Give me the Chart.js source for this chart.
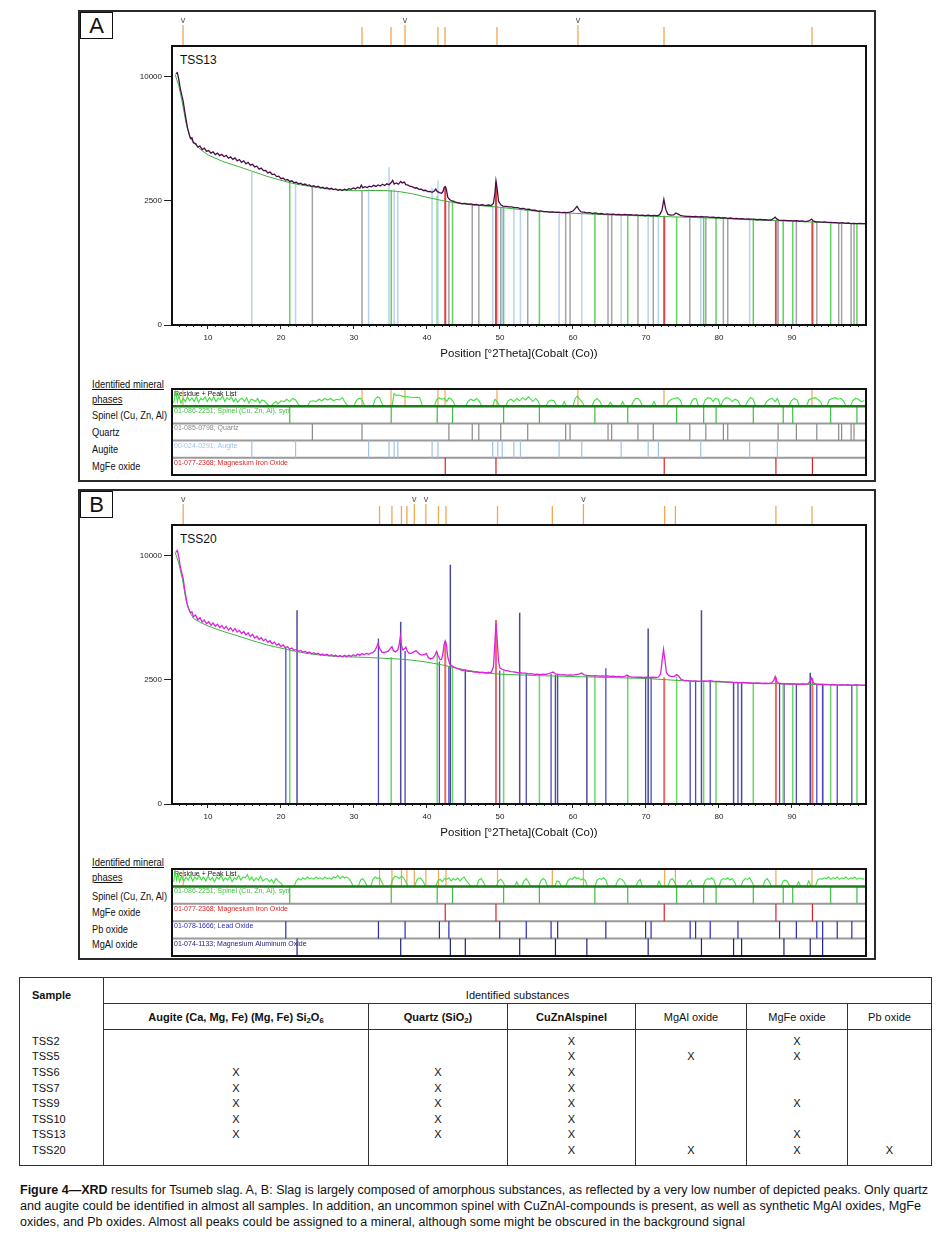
<!DOCTYPE html>
<html><head><meta charset="utf-8"><title>XRD results for Tsumeb slag</title>
<script src="https://cdn.jsdelivr.net/npm/chart.js@4.4.1/dist/chart.umd.min.js"></script>
<style>
*{box-sizing:border-box;}
html,body{margin:0;padding:0;background:#fff;}
body{position:relative;width:941px;height:1234px;overflow:hidden;font-family:"Liberation Sans Narrow","Arial Narrow","Liberation Sans",Arial,sans-serif;color:#111;}
.panel{position:absolute;left:78px;width:798px;border:2px solid #2a2a2a;}
.tag{position:absolute;left:80px;width:33px;height:27px;border:1.5px solid #111;font:22px "Liberation Sans",Arial,sans-serif;text-align:center;line-height:25px;}
canvas{position:absolute;}
.sample{position:absolute;left:180px;font-size:12px;line-height:14px;}
.lbl{position:absolute;left:92px;font-size:11px;line-height:13px;white-space:nowrap;transform:scaleX(0.84);transform-origin:0 50%;z-index:2;}
.hdr{position:absolute;left:92px;font-size:10.5px;line-height:15px;text-decoration:underline;white-space:nowrap;transform:scaleX(0.9);transform-origin:0 50%;}
#tbl{position:absolute;left:19px;top:977px;width:912px;border-collapse:collapse;table-layout:fixed;font-size:11px;color:#111;border:1px solid #333;}
#tbl th,#tbl td{padding:0;}
#tbl .samp{text-align:left;vertical-align:top;padding:11px 0 0 12px;font-weight:bold;border-right:1px solid #333;}
#tbl .ids{height:26px;font-weight:normal;border-bottom:1px solid #333;text-align:center;vertical-align:bottom;padding-bottom:2px;}
#tbl .h2 th{height:26px;border-right:1px solid #333;border-bottom:1px solid #333;text-align:center;}
#tbl .h2 th.b{font-weight:bold;}
#tbl .h2 th.n{font-weight:normal;}
#tbl td{height:15.6px;line-height:15px;text-align:center;border-right:1px solid #333;}
#tbl td.s{text-align:left;padding-left:12px;}
#tbl tr.sp td{height:4px;line-height:4px;}
#tbl tr.sp2 td{height:7px;line-height:7px;}
sub{font-size:70%;vertical-align:-2px;line-height:0;}
.cap{position:absolute;left:20px;font-size:12.5px;line-height:16px;white-space:nowrap;color:#111;transform-origin:0 50%;}
</style></head>
<body>
<div class="panel" style="top:10px;height:472px"></div>
<div class="panel" style="top:489px;height:471px"></div>
<div class="tag" style="top:12px">A</div>
<div class="tag" style="top:491px">B</div>
<div class="sample" style="top:53px">TSS13</div>
<div class="sample" style="top:532px">TSS20</div>

<canvas id="mainA" width="760" height="352" style="left:120px;top:14px"></canvas>
<canvas id="subA" width="698" height="89" style="left:170px;top:387px"></canvas>
<canvas id="mainB" width="760" height="352" style="left:120px;top:493px"></canvas>
<canvas id="subB" width="698" height="90" style="left:170px;top:867px"></canvas>

<div class="hdr" style="top:377px">Identified mineral<br>phases</div>
<div class="lbl" style="top:409px">Spinel (Cu, Zn, Al)</div>
<div class="lbl" style="top:426px">Quartz</div>
<div class="lbl" style="top:443px">Augite</div>
<div class="lbl" style="top:460px">MgFe oxide</div>

<div class="hdr" style="top:855px">Identified mineral<br>phases</div>
<div class="lbl" style="top:890px">Spinel (Cu, Zn, Al)</div>
<div class="lbl" style="top:906px">MgFe oxide</div>
<div class="lbl" style="top:923px">Pb oxide</div>
<div class="lbl" style="top:938px">MgAl oxide</div>

<table id="tbl"></table>

<div class="cap" data-w="908" style="top:1182px"><b>Figure 4—XRD</b> results for Tsumeb slag. A, B: Slag is largely composed of amorphous substances, as reflected by a very low number of depicted peaks. Only quartz</div>
<div class="cap" data-w="901" style="top:1198px">and augite could be identified in almost all samples. In addition, an uncommon spinel with CuZnAl-compounds is present, as well as synthetic MgAl oxides, MgFe</div>
<div class="cap" data-w="725" style="top:1214px">oxides, and Pb oxides. Almost all peaks could be assigned to a mineral, although some might be obscured in the background signal</div>

<script>
// ---------------- DATA ----------------
const xTicks = [10, 20, 30, 40, 50, 60, 70, 80, 90];
const yTicks = [0, 2500, 10000];
const X_MIN = 5.07, X_MAX = 100.14, Y_MAX = 12650;

// Panel A (TSS13) measured pattern [°2θ, counts]
const patternA = [[5.6,10250],[5.8,10350],[6.0,9800],[6.2,9100],[6.4,8600],[6.6,8150],[6.8,7450],[7.0,6850],[7.2,6300],[7.4,5950],[7.6,5650],[7.8,5700],[8.0,5400],[8.3,5350],[8.6,5150],[8.9,5200],[9.2,5000],[9.5,5080],[9.8,4900],[10.1,4950],[10.4,4800],[10.7,4870],[11.0,4720],[11.3,4800],[11.6,4660],[11.9,4730],[12.2,4600],[12.5,4680],[12.8,4520],[13.1,4590],[13.4,4460],[13.7,4540],[14.0,4380],[14.3,4450],[14.6,4300],[14.9,4380],[15.2,4220],[15.5,4300],[15.8,4150],[16.1,4200],[16.4,4060],[16.7,4100],[17.0,3950],[17.3,4000],[17.6,3870],[17.9,3880],[18.2,3760],[18.5,3800],[18.8,3680],[19.1,3700],[19.4,3580],[19.7,3600],[20.0,3480],[20.3,3510],[20.6,3410],[20.9,3440],[21.2,3350],[21.5,3380],[21.8,3290],[22.1,3310],[22.4,3240],[22.7,3270],[23.0,3200],[23.3,3230],[23.6,3160],[23.9,3190],[24.2,3120],[24.5,3150],[24.8,3090],[25.1,3130],[25.4,3060],[25.7,3090],[26.0,3030],[26.3,3060],[26.6,3000],[26.9,3040],[27.2,2980],[27.5,3010],[27.8,2950],[28.1,2990],[28.4,2940],[28.7,3000],[29.0,2960],[29.3,3020],[29.6,2990],[29.9,3050],[30.2,3010],[30.5,3080],[30.8,3040],[31.0,3180],[31.2,3060],[31.5,3110],[31.8,3070],[32.1,3130],[32.4,3100],[32.7,3170],[33.0,3120],[33.3,3190],[33.6,3140],[33.9,3220],[34.2,3160],[34.5,3240],[34.8,3200],[35.1,3300],[35.3,3400],[35.5,3230],[35.8,3280],[36.1,3220],[36.4,3350],[36.6,3280],[36.9,3320],[37.1,3200],[37.4,3180],[37.7,3120],[38.0,3110],[38.3,3050],[38.6,3060],[38.9,2990],[39.2,3000],[39.5,2940],[39.8,2950],[40.1,2890],[40.4,2900],[40.7,2860],[41.0,2920],[41.2,3000],[41.4,2900],[41.7,2850],[42.0,2820],[42.2,2900],[42.35,3080],[42.5,3120],[42.65,3000],[42.85,2650],[43.1,2560],[43.4,2500],[43.7,2480],[44.0,2440],[44.4,2420],[44.8,2390],[45.2,2400],[45.6,2370],[46.0,2380],[46.4,2350],[46.8,2360],[47.2,2330],[47.6,2350],[48.0,2320],[48.4,2340],[48.8,2320],[49.1,2400],[49.3,2800],[49.45,3380],[49.6,3050],[49.8,2500],[50.1,2350],[50.4,2300],[50.8,2290],[51.2,2270],[51.6,2270],[52.0,2240],[52.4,2240],[52.8,2200],[53.2,2210],[53.6,2170],[54.0,2180],[54.4,2140],[54.8,2140],[55.2,2110],[55.6,2120],[56.0,2090],[56.4,2090],[56.8,2070],[57.2,2080],[57.6,2060],[58.0,2070],[58.4,2050],[58.8,2060],[59.2,2050],[59.6,2070],[60.0,2110],[60.3,2200],[60.55,2290],[60.8,2170],[61.1,2080],[61.5,2070],[61.9,2040],[62.3,2050],[62.7,2020],[63.1,2040],[63.5,2010],[63.9,2020],[64.3,1990],[64.7,2010],[65.1,1990],[65.5,2000],[65.9,1980],[66.3,1990],[66.7,1970],[67.1,1990],[67.5,1970],[67.9,1980],[68.3,1960],[68.7,1970],[69.1,1950],[69.5,1960],[69.9,1940],[70.3,1960],[70.7,1940],[71.1,1950],[71.5,1940],[71.9,1980],[72.2,2150],[72.45,2560],[72.7,2180],[73.0,1990],[73.4,1960],[73.8,1970],[74.1,2040],[74.4,2000],[74.8,1940],[75.2,1930],[75.6,1920],[76.0,1920],[76.4,1910],[76.8,1920],[77.2,1900],[77.6,1910],[78.0,1900],[78.4,1900],[78.8,1880],[79.2,1890],[79.6,1870],[80.0,1880],[80.4,1860],[80.8,1870],[81.2,1850],[81.6,1860],[82.0,1840],[82.4,1850],[82.8,1830],[83.2,1840],[83.6,1820],[84.0,1830],[84.4,1820],[84.8,1820],[85.2,1800],[85.6,1810],[86.0,1800],[86.4,1800],[86.8,1790],[87.2,1800],[87.5,1850],[87.7,1890],[87.9,1830],[88.2,1790],[88.6,1780],[89.0,1780],[89.4,1770],[89.8,1770],[90.2,1760],[90.6,1770],[91.0,1750],[91.4,1760],[91.8,1740],[92.2,1750],[92.5,1790],[92.7,1820],[92.9,1760],[93.3,1730],[93.7,1730],[94.1,1720],[94.5,1730],[94.9,1710],[95.3,1710],[95.7,1700],[96.1,1700],[96.5,1690],[96.9,1700],[97.3,1680],[97.7,1690],[98.1,1670],[98.5,1680],[98.9,1670],[99.3,1680],[99.7,1670],[100.1,1670]];
const backgroundA = [[5.5,10200],[6.0,9300],[6.5,8000],[7.0,6600],[7.5,5800],[8.0,5400],[9.0,5000],[10,4700],[12,4350],[14,4100],[16,3850],[18,3600],[20,3400],[22,3230],[24,3120],[26,3020],[28,2960],[30,2930],[32,2940],[34,2940],[36,2900],[38,2800],[40,2650],[42,2520],[44,2420],[46,2350],[48,2300],[50,2250],[55,2100],[60,2030],[65,1970],[70,1930],[75,1890],[80,1850],[85,1790],[90,1750],[95,1700],[100.1,1660]];

// Panel B (TSS20)
const patternB = [[5.6,10300],[5.8,10450],[6.0,9900],[6.2,9200],[6.4,8700],[6.6,8300],[6.8,7500],[7.0,6900],[7.2,6400],[7.4,6150],[7.6,5950],[7.8,6000],[8.0,5700],[8.3,5800],[8.6,5500],[8.9,5650],[9.2,5380],[9.5,5500],[9.8,5280],[10.1,5400],[10.4,5200],[10.7,5320],[11.0,5130],[11.3,5250],[11.6,5060],[11.9,5180],[12.2,4990],[12.5,5120],[12.8,4920],[13.1,5050],[13.4,4850],[13.7,5000],[14.0,4800],[14.3,4900],[14.6,4720],[14.9,4830],[15.2,4640],[15.5,4760],[15.8,4560],[16.1,4680],[16.4,4480],[16.7,4580],[17.0,4400],[17.3,4500],[17.6,4330],[17.9,4420],[18.2,4250],[18.5,4330],[18.8,4170],[19.1,4260],[19.4,4100],[19.7,4180],[20.0,4030],[20.3,4110],[20.6,3970],[20.9,4020],[21.2,3900],[21.5,3950],[21.8,3840],[22.1,3880],[22.4,3790],[22.7,3830],[23.0,3740],[23.3,3790],[23.6,3700],[23.9,3750],[24.2,3670],[24.5,3720],[24.8,3640],[25.1,3690],[25.4,3610],[25.7,3660],[26.0,3590],[26.3,3640],[26.6,3570],[26.9,3620],[27.2,3550],[27.5,3600],[27.8,3530],[28.1,3580],[28.4,3520],[28.7,3590],[29.0,3530],[29.3,3600],[29.6,3540],[29.9,3620],[30.2,3560],[30.5,3650],[30.8,3590],[31.1,3680],[31.4,3620],[31.7,3690],[32.0,3640],[32.3,3700],[32.6,3720],[32.9,3850],[33.1,4000],[33.3,4200],[33.5,3950],[33.8,3760],[34.1,3720],[34.4,3760],[34.7,3800],[35.0,3950],[35.2,4020],[35.4,3820],[35.7,3760],[36.0,3850],[36.2,4150],[36.35,4550],[36.5,4100],[36.7,3850],[36.9,3900],[37.1,4000],[37.3,3800],[37.6,3680],[37.9,3700],[38.2,3760],[38.5,3820],[38.8,3700],[39.0,3650],[39.3,3600],[39.6,3620],[39.9,3680],[40.2,3480],[40.5,3420],[40.8,3460],[41.1,3600],[41.3,3780],[41.5,3600],[41.8,3380],[42.0,3400],[42.2,3700],[42.35,4150],[42.5,4320],[42.65,4150],[42.85,3500],[43.1,3200],[43.4,3100],[43.7,3050],[44.0,3000],[44.4,2960],[44.8,2900],[45.2,2910],[45.6,2860],[46.0,2870],[46.4,2830],[46.8,2840],[47.2,2800],[47.6,2820],[48.0,2790],[48.4,2810],[48.8,2820],[49.1,3050],[49.3,4200],[49.45,5300],[49.6,4500],[49.8,3300],[50.0,3000],[50.3,2950],[50.7,2900],[51.1,2880],[51.5,2850],[51.9,2840],[52.3,2810],[52.7,2800],[53.1,2780],[53.5,2780],[53.9,2750],[54.3,2760],[54.7,2730],[55.1,2740],[55.5,2720],[55.9,2740],[56.3,2730],[56.7,2760],[57.0,2800],[57.3,2830],[57.6,2750],[58.0,2730],[58.4,2710],[58.8,2720],[59.2,2700],[59.6,2710],[60.0,2700],[60.4,2720],[60.8,2740],[61.2,2790],[61.5,2710],[61.9,2690],[62.3,2680],[62.7,2670],[63.1,2680],[63.5,2660],[63.9,2670],[64.3,2660],[64.7,2670],[65.1,2650],[65.5,2660],[65.9,2640],[66.3,2650],[66.7,2630],[67.1,2650],[67.4,2700],[67.7,2640],[68.1,2620],[68.5,2620],[68.9,2610],[69.3,2610],[69.7,2600],[70.1,2610],[70.5,2600],[70.9,2610],[71.3,2600],[71.7,2620],[72.0,2750],[72.2,3300],[72.4,3880],[72.6,3350],[72.8,2800],[73.1,2690],[73.5,2640],[73.9,2650],[74.2,2720],[74.5,2650],[74.8,2520],[75.2,2480],[75.6,2470],[76.0,2460],[76.4,2450],[76.8,2460],[77.2,2440],[77.6,2450],[78.0,2460],[78.4,2450],[78.8,2470],[79.2,2450],[79.6,2440],[80.0,2440],[80.4,2430],[80.8,2420],[81.2,2420],[81.6,2410],[82.0,2400],[82.4,2400],[82.8,2390],[83.2,2400],[83.6,2390],[84.0,2380],[84.4,2380],[84.8,2370],[85.2,2380],[85.6,2370],[86.0,2360],[86.4,2370],[86.8,2360],[87.2,2380],[87.5,2480],[87.7,2640],[87.9,2450],[88.2,2370],[88.6,2350],[89.0,2350],[89.4,2340],[89.8,2350],[90.2,2340],[90.6,2340],[91.0,2330],[91.4,2340],[91.8,2330],[92.2,2350],[92.5,2450],[92.7,2580],[92.9,2400],[93.2,2340],[93.6,2330],[94.0,2330],[94.4,2320],[94.8,2320],[95.2,2310],[95.6,2320],[96.0,2310],[96.4,2300],[96.8,2310],[97.2,2300],[97.6,2310],[98.0,2300],[98.4,2300],[98.8,2310],[99.2,2300],[99.6,2300],[100.1,2300]];
const backgroundB = [[5.5,10300],[6.0,9400],[6.5,8200],[7.0,6700],[7.5,6000],[8.0,5600],[9.0,5350],[10,5150],[12,4850],[14,4600],[16,4350],[18,4120],[20,3950],[22,3780],[24,3660],[26,3580],[28,3530],[30,3510],[32,3490],[34,3450],[36,3420],[38,3360],[40,3270],[42,3150],[44,3000],[46,2880],[48,2790],[50,2740],[55,2680],[60,2640],[65,2600],[70,2560],[75,2470],[80,2420],[85,2370],[90,2340],[95,2310],[100.1,2290]];

// Reference pattern stick positions (°2θ) and drawn heights (counts)
const spinelPos = [21.2, 35.1, 41.4, 43.5, 50.5, 55.4, 63.0, 67.5, 74.2, 77.9, 79.6, 84.7, 88.8, 90.1, 95.3, 98.9];
const spinelHA  = [3350, 2950, 2700, 2480, 2260, 2100, 2010, 1980, 1900, 1880, 1870, 1800, 1770, 1760, 1700, 1670];
const spinelHB  = [3900, 3500, 3770, 3050, 2900, 2720, 2650, 2700, 2620, 2450, 2440, 2380, 2350, 2340, 2310, 2300];
const quartzPos = [24.3, 31.1, 43.0, 46.2, 47.1, 50.1, 53.8, 59.0, 59.6, 64.8, 65.3, 68.9, 71.0, 76.0, 78.2, 80.6, 81.2, 88.1, 90.6, 93.4, 96.4, 96.8, 98.1, 98.5];
const quartzHA  = [3120, 2930, 2480, 2350, 2330, 2250, 2150, 2030, 2030, 1980, 1970, 1950, 1940, 1900, 1880, 1860, 1850, 1780, 1760, 1730, 1690, 1690, 1680, 1670];
const augitePos = [16.0, 22.0, 32.0, 34.8, 35.5, 36.0, 40.7, 41.5, 49.0, 49.7, 50.3, 51.9, 52.8, 58.1, 61.2, 66.6, 70.3, 71.7, 77.5, 84.2, 88.0];
const augiteHA  = [3800, 3280, 3020, 4050, 3000, 2900, 3050, 3390, 2300, 2300, 2280, 2230, 2200, 2050, 2040, 2000, 1950, 1950, 1950, 1830, 1780];
const mgfePos = [42.5, 49.45, 72.5, 87.8, 92.8];
const mgfeHA  = [3100, 3330, 1940, 1790, 1750];
const mgfeHB  = [4300, 5500, 2600, 2620, 2560];
const pbPos = [20.66, 33.35, 37.0, 41.7, 43.0, 49.96, 53.6, 57.0, 57.9, 64.5, 69.95, 70.7, 76.05, 76.8, 78.8, 82.6, 88.3, 90.6, 93.4, 94.2, 96.2, 98.2];
const pbHB  = [4000, 4450, 3800, 3300, 3100, 2900, 2760, 2750, 2720, 3000, 2590, 2600, 2450, 2450, 2450, 2400, 2350, 2340, 2330, 2330, 2310, 2300];
const mgalPos = [22.2, 36.4, 43.2, 45.25, 52.7, 57.6, 61.9, 70.3, 77.6, 82.0, 83.1, 88.9, 92.5, 94.2];
const mgalHB  = [6100, 5400, 9300, 2880, 5950, 2720, 2660, 5000, 6100, 2400, 2390, 2350, 2800, 2320];

// Peak list markers (°2θ); "v" flagged ones
const markersA = [6.58, 31.1, 35.07, 36.99, 41.5, 42.47, 49.59, 60.68, 72.47, 92.74];
const vMarksA  = [6.58, 36.99, 60.68];
const markersB = [6.6, 33.5, 35.2, 36.5, 37.25, 38.26, 39.85, 41.57, 42.6, 49.66, 57.17, 61.43, 72.56, 74.03, 87.8, 92.74];
const vMarksB  = [6.6, 38.26, 39.85, 61.43];

// Residue traces [°2θ, relative residue 0..1]
const residueA = [[5.3,0.2],[5.6,0.95],[5.8,0.3],[6.0,0.7],[6.3,0.2],[6.6,0.5],[6.9,0.3],[7.2,0.6],[7.5,0.35],[7.8,0.55],[8.1,0.3],[8.4,0.6],[8.7,0.25],[9.0,0.5],[9.3,0.4],[9.6,0.6],[9.9,0.3],[10.2,0.55],[10.5,0.35],[10.8,0.6],[11.1,0.3],[11.4,0.5],[11.7,0.45],[12.0,0.65],[12.3,0.3],[12.6,0.55],[12.9,0.4],[13.2,0.6],[13.5,0.3],[13.8,0.5],[14.1,0.25],[14.4,0.45],[14.7,0.5],[15.0,0.3],[15.3,0.55],[15.6,0.2],[15.9,0.45],[16.2,0.4],[16.5,0.3],[16.8,0.5],[17.1,0.2],[17.4,0.4],[17.7,0.35],[18.0,0.2],[18.3,0.05],[18.6,0],[19.0,0.2],[19.3,0.3],[19.6,0.15],[20.0,0.35],[20.4,0.3],[20.8,0.45],[21.2,0.3],[21.6,0.5],[22.0,0.4],[22.4,0.1],[22.8,0],[23.6,0],[24.0,0.3],[24.4,0.35],[24.8,0.3],[25.2,0.45],[25.6,0.35],[26.0,0.5],[26.4,0.4],[26.8,0.5],[27.2,0.35],[27.6,0.45],[28.0,0.4],[28.4,0.55],[28.7,0.3],[29.0,0.1],[29.5,0],[30.0,0],[30.3,0.35],[30.6,0.5],[30.9,0.5],[31.2,0.3],[31.5,0],[32.6,0],[32.9,0.45],[33.2,0.6],[33.5,0.55],[33.8,0.2],[34.1,0],[35.2,0],[35.5,0.8],[35.8,0.7],[36.2,0.72],[36.6,0.65],[37.0,0.62],[37.4,0.6],[37.8,0.58],[38.2,0.55],[38.6,0.58],[39.0,0.55],[39.4,0],[41.0,0],[41.3,0.4],[41.6,0.55],[42.0,0.45],[42.4,0.5],[42.7,0.3],[43.0,0.55],[43.3,0.45],[43.6,0.3],[43.9,0],[45.3,0],[45.6,0.3],[46.0,0.45],[46.4,0.35],[46.8,0.5],[47.2,0.3],[47.5,0],[49.0,0],[49.3,0.45],[49.6,0.3],[50.0,0],[50.8,0],[51.1,0.35],[51.5,0.45],[51.9,0.3],[52.3,0.5],[52.7,0.35],[53.1,0.55],[53.5,0.4],[53.9,0.6],[54.2,0.45],[54.5,0.3],[54.9,0.5],[55.2,0.35],[55.5,0],[56.3,0],[56.6,0.3],[57.0,0.4],[57.4,0.35],[57.8,0],[58.5,0],[58.8,0.3],[59.1,0],[60.0,0],[60.3,0.5],[60.6,0.65],[60.9,0.45],[61.2,0.3],[61.6,0],[62.6,0],[62.9,0.35],[63.3,0.5],[63.7,0.3],[64.0,0],[64.8,0],[65.1,0.25],[65.5,0],[66.5,0],[66.8,0.3],[67.1,0],[68.0,0],[68.3,0.35],[68.6,0.5],[68.9,0.5],[69.2,0.35],[69.5,0],[70.8,0],[71.1,0.3],[71.4,0],[72.8,0],[73.1,0.3],[73.5,0.45],[73.9,0.5],[74.3,0.55],[74.7,0.4],[75.0,0],[76.0,0],[76.3,0.35],[76.6,0.5],[76.9,0.45],[77.2,0],[77.8,0],[78.1,0.4],[78.5,0.55],[78.9,0.5],[79.2,0.3],[79.5,0.5],[79.9,0.45],[80.2,0],[80.6,0.4],[81.0,0.55],[81.4,0.5],[81.8,0.3],[82.2,0.45],[82.6,0.35],[83.0,0],[83.6,0],[83.9,0.3],[84.3,0.55],[84.7,0.45],[85.0,0],[86.2,0],[86.5,0.3],[86.9,0.45],[87.3,0.5],[87.7,0.3],[88.0,0.5],[88.4,0],[89.6,0],[89.9,0.35],[90.3,0.5],[90.7,0.4],[91.0,0],[92.0,0],[92.3,0.4],[92.7,0.5],[93.1,0.55],[93.5,0.45],[93.9,0.3],[94.2,0],[94.8,0],[95.1,0.4],[95.5,0.5],[95.9,0.55],[96.3,0.45],[96.7,0.5],[97.1,0.3],[97.4,0],[98.0,0],[98.3,0.35],[98.7,0.5],[99.1,0.45],[99.5,0.3],[99.9,0.35]];
const residueB = [[5.3,0.3],[5.5,1.0],[5.7,0.4],[5.9,0.8],[6.1,0.3],[6.4,0.65],[6.7,0.35],[7.0,0.6],[7.3,0.4],[7.6,0.7],[7.9,0.35],[8.2,0.6],[8.5,0.45],[8.8,0.7],[9.1,0.4],[9.4,0.6],[9.7,0.35],[10.0,0.65],[10.3,0.4],[10.6,0.55],[10.9,0.3],[11.2,0.6],[11.5,0.45],[11.8,0.7],[12.1,0.35],[12.4,0.55],[12.7,0.4],[13.0,0.65],[13.3,0.3],[13.6,0.55],[13.9,0.45],[14.2,0.7],[14.5,0.4],[14.8,0.6],[15.1,0.55],[15.4,0.75],[15.7,0.4],[16.0,0.6],[16.3,0.35],[16.6,0.55],[16.9,0.4],[17.2,0.65],[17.5,0.35],[17.8,0.45],[18.1,0.5],[18.4,0.3],[18.7,0.45],[19.0,0.2],[19.3,0.5],[19.6,0.35],[20.0,0.2],[20.3,0],[21.8,0],[22.1,0.35],[22.4,0.5],[22.7,0.4],[23.0,0.55],[23.3,0.45],[23.6,0.6],[23.9,0.5],[24.2,0.55],[24.5,0.45],[24.8,0.6],[25.1,0.5],[25.4,0.55],[25.7,0.45],[26.0,0.6],[26.3,0.5],[26.6,0.55],[26.9,0.45],[27.2,0.6],[27.5,0.55],[27.8,0.7],[28.1,0.5],[28.4,0.65],[28.7,0.55],[29.0,0.6],[29.3,0.5],[29.6,0.3],[29.9,0],[30.6,0],[30.9,0.4],[31.2,0.5],[31.5,0.3],[31.8,0],[32.3,0],[32.6,0.45],[32.9,0.6],[33.2,0.5],[33.5,0.55],[33.8,0.3],[34.1,0],[35.0,0],[35.3,0.45],[35.6,0.65],[35.9,0.6],[36.2,0.5],[36.5,0.65],[36.8,0.55],[37.1,0.3],[37.4,0],[38.3,0],[38.6,0.4],[38.9,0.55],[39.2,0.5],[39.5,0.3],[39.8,0],[41.2,0],[41.5,0.35],[41.8,0.45],[42.1,0.3],[42.4,0.5],[42.7,0.45],[43.0,0.55],[43.3,0.35],[43.6,0.5],[43.9,0.4],[44.2,0.55],[44.5,0.35],[44.8,0.5],[45.1,0.6],[45.4,0.35],[45.7,0.2],[46.0,0],[46.8,0],[47.1,0.4],[47.4,0.5],[47.7,0.3],[48.0,0],[49.5,0],[49.8,0.35],[50.1,0.45],[50.4,0.3],[50.7,0],[52.0,0],[52.3,0.3],[52.6,0],[53.0,0],[53.3,0.35],[53.6,0.5],[53.9,0.3],[54.2,0],[55.3,0],[55.6,0.35],[55.9,0.5],[56.2,0.4],[56.5,0],[57.5,0],[57.8,0.35],[58.1,0.3],[58.4,0],[59.0,0],[59.3,0.35],[59.6,0.5],[59.9,0.45],[60.2,0.6],[60.5,0.5],[60.8,0.55],[61.1,0.4],[61.4,0.5],[61.7,0.35],[62.0,0],[63.0,0],[63.3,0.4],[63.6,0.5],[63.9,0.45],[64.2,0.55],[64.5,0.4],[64.8,0],[65.8,0],[66.1,0.35],[66.4,0.5],[66.7,0.45],[67.0,0.3],[67.3,0],[68.6,0],[68.9,0.3],[69.2,0.45],[69.5,0],[71.5,0],[71.8,0.35],[72.1,0],[73.0,0],[73.3,0.4],[73.6,0.5],[73.9,0.3],[74.2,0],[75.5,0],[75.8,0.3],[76.1,0.4],[76.4,0],[77.8,0],[78.1,0.35],[78.4,0.5],[78.7,0.45],[79.0,0.55],[79.3,0.4],[79.6,0],[80.0,0],[80.3,0.4],[80.6,0.5],[80.9,0.45],[81.2,0.55],[81.5,0.4],[81.8,0.5],[82.1,0.3],[82.4,0],[83.0,0],[83.3,0.35],[83.6,0.5],[83.9,0.45],[84.2,0.55],[84.5,0.3],[84.8,0],[86.0,0],[86.3,0.35],[86.6,0.5],[86.9,0.3],[87.2,0],[88.5,0],[88.8,0.35],[89.1,0.4],[89.4,0.3],[89.7,0],[90.6,0],[90.9,0.3],[91.2,0],[92.0,0],[92.3,0.35],[92.6,0],[93.2,0],[93.5,0.4],[93.8,0.5],[94.1,0.45],[94.4,0.55],[94.7,0.5],[95.0,0.6],[95.3,0.45],[95.6,0.55],[95.9,0.5],[96.2,0.6],[96.5,0.45],[96.8,0.55],[97.1,0.5],[97.4,0.6],[97.7,0.45],[98.0,0.55],[98.3,0.5],[98.6,0.6],[98.9,0.45],[99.2,0.55],[99.5,0.5],[99.9,0.45]];

// Table
const samples = ['TSS2', 'TSS5', 'TSS6', 'TSS7', 'TSS9', 'TSS10', 'TSS13', 'TSS20'];
const augiteFound = [0, 0, 1, 1, 1, 1, 1, 0];
const quartzFound = [0, 0, 1, 1, 1, 1, 1, 0];
const spinelFound = [1, 1, 1, 1, 1, 1, 1, 1];
const mgalFound   = [0, 1, 0, 0, 0, 0, 0, 1];
const mgfeFound   = [1, 1, 0, 0, 1, 0, 1, 1];
const pbFound     = [0, 0, 0, 0, 0, 0, 0, 1];

// ---------------- RENDER ----------------
const FONT = '"Liberation Sans Narrow","Arial Narrow","Liberation Sans",Arial,sans-serif';
Chart.defaults.font.family = FONT;
Chart.defaults.color = '#222';

class SqrtScale extends Chart.LinearScale {
  getPixelForValue(value) {
    if (value === null || value === undefined || isNaN(value)) return NaN;
    const s0 = Math.sqrt(Math.max(this.min, 0)), s1 = Math.sqrt(this.max);
    return this.getPixelForDecimal((Math.sqrt(Math.max(value, 0)) - s0) / (s1 - s0));
  }
  getValueForPixel(pixel) {
    const s0 = Math.sqrt(Math.max(this.min, 0)), s1 = Math.sqrt(this.max);
    const s = s0 + this.getDecimalForPixel(pixel) * (s1 - s0);
    return s * s;
  }
}
SqrtScale.id = 'sqrt';
Chart.register(SqrtScale);

function pts(arr) { return arr.map(([x, y]) => ({x, y})); }
function sticks(pos, top, base) {
  const out = [];
  pos.forEach((p, i) => {
    const t = Array.isArray(top) ? top[i] : top;
    out.push({x: p, y: base}, {x: p, y: t}, {x: p, y: null});
  });
  return out;
}
function ds(data, color, width) {
  return {data, borderColor: color, backgroundColor: color, borderWidth: width, pointRadius: 0, fill: false, tension: 0, spanGaps: false};
}

const mainPlugin = {
  id: 'mainDeco',
  afterDraw(chart, args, o) {
    const {ctx, chartArea: a, scales: {x}} = chart;
    ctx.save();
    ctx.strokeStyle = '#222'; ctx.lineWidth = 1;
    for (let d = Math.ceil(x.min); d <= x.max; d++) {
      if (d % 10 === 0) continue;
      const px = Math.round(x.getPixelForValue(d)) + 0.5;
      ctx.beginPath(); ctx.moveTo(px, a.bottom); ctx.lineTo(px, a.bottom + 2); ctx.stroke();
    }
    ctx.strokeStyle = '#111'; ctx.lineWidth = 2;
    ctx.strokeRect(a.left, a.top, a.right - a.left, a.bottom - a.top);
    ctx.strokeStyle = '#f2a650'; ctx.lineWidth = 1.3;
    o.markers.forEach(p => {
      const px = x.getPixelForValue(p);
      const isV = o.vmarks.includes(p);
      ctx.beginPath(); ctx.moveTo(px, a.top - (isV ? 21 : 19)); ctx.lineTo(px, a.top - 1); ctx.stroke();
    });
    ctx.fillStyle = '#555'; ctx.font = '9px ' + FONT; ctx.textAlign = 'center'; ctx.textBaseline = 'middle';
    o.vmarks.forEach(p => { ctx.fillText('v', x.getPixelForValue(p), a.top - 25); });
    ctx.restore();
  }
};

function mainChart(id, pattern, patColor, background, stickSets, markers, vmarks) {
  const datasets = [ds(pts(pattern), patColor, 1.3), ds(pts(background), '#3cb43c', 1)];
  stickSets.forEach(s => datasets.push(ds(sticks(s.pos, s.h, 0), s.color, s.w)));
  new Chart(document.getElementById(id), {
    type: 'line',
    data: {datasets},
    options: {
      responsive: false, animation: false, devicePixelRatio: 1,
      layout: {padding: {left: 0, top: 32, right: 14, bottom: 0}},
      plugins: {legend: {display: false}, tooltip: {enabled: false}, mainDeco: {markers, vmarks}},
      scales: {
        x: {type: 'linear', min: X_MIN, max: X_MAX,
            afterFit: s => { s.height = 41; },
            afterBuildTicks: s => { s.ticks = xTicks.map(v => ({value: v})); },
            grid: {display: true, drawOnChartArea: false, drawTicks: true, tickLength: 4, tickColor: '#222', tickWidth: 1},
            border: {display: false},
            ticks: {padding: 4, font: {size: 8}, color: '#222', maxRotation: 0, autoSkip: false, callback: v => String(v)},
            title: {display: true, text: 'Position [°2Theta](Cobalt (Co))', font: {size: 11.5}, color: '#111', padding: {top: 0, bottom: 5}}},
        y: {type: 'sqrt', min: 0, max: Y_MAX,
            afterFit: s => { s.width = 52; },
            afterBuildTicks: s => { s.ticks = yTicks.map(v => ({value: v})); },
            grid: {display: true, drawOnChartArea: false, drawTicks: true, tickLength: 8, tickColor: '#222', tickWidth: 1},
            border: {display: false},
            ticks: {padding: 2, font: {size: 8}, color: '#222', callback: v => String(v)}}
      }
    },
    plugins: [mainPlugin]
  });
}

const subPlugin = {
  id: 'subDeco',
  beforeDatasetsDraw(chart, args, o) {
    const {ctx, chartArea: a, scales: {y}} = chart;
    ctx.save();
    ctx.font = '7px ' + FONT; ctx.textAlign = 'left'; ctx.textBaseline = 'top';
    o.rows.forEach((r, i) => {
      ctx.fillStyle = r.color;
      ctx.fillText(r.label, a.left + 2, y.getPixelForValue(5 - i) + 1.5);
    });
    ctx.strokeStyle = '#9a9a9a'; ctx.lineWidth = 2;
    for (let k = 1; k <= 3; k++) {
      const py = y.getPixelForValue(k);
      ctx.beginPath(); ctx.moveTo(a.left, py); ctx.lineTo(a.right, py); ctx.stroke();
    }
    ctx.restore();
  },
  afterDatasetsDraw(chart) {
    const {ctx, chartArea: a, scales: {y}} = chart;
    ctx.save();
    const py = y.getPixelForValue(4);
    ctx.strokeStyle = '#1f7a1f'; ctx.lineWidth = 2.5;
    ctx.beginPath(); ctx.moveTo(a.left, py); ctx.lineTo(a.right, py); ctx.stroke();
    ctx.strokeStyle = '#111'; ctx.lineWidth = 2;
    ctx.strokeRect(a.left, a.top, a.right - a.left, a.bottom - a.top);
    ctx.restore();
  }
};

function subChart(id, residue, markers, rows) {
  const datasets = [ds(residue.map(([x, v]) => ({x, y: 4 + v * 0.9})), '#3ee03e', 1.1),
                    ds(sticks(markers, 5, 4), '#f2a650', 1.2)];
  rows.forEach((r, i) => { if (r.pos) datasets.push(ds(sticks(r.pos, 5 - i, 4 - i), r.color, 1.2)); });
  new Chart(document.getElementById(id), {
    type: 'line',
    data: {datasets},
    options: {
      responsive: false, animation: false, devicePixelRatio: 1,
      layout: {padding: {left: 2, right: 2, top: 2, bottom: 1}},
      plugins: {legend: {display: false}, tooltip: {enabled: false}, subDeco: {rows}},
      scales: {x: {type: 'linear', min: X_MIN, max: X_MAX, display: false},
               y: {type: 'linear', min: 0, max: 5, display: false}}
    },
    plugins: [subPlugin]
  });
}

mainChart('mainA', patternA, '#4a0d48', backgroundA, [
  {pos: quartzPos, h: quartzHA, color: '#a3a3a3', w: 1.5},
  {pos: augitePos, h: augiteHA, color: '#b7d3ee', w: 1.5},
  {pos: spinelPos, h: spinelHA, color: '#5fd35f', w: 1.5},
  {pos: mgfePos, h: mgfeHA, color: '#e04040', w: 2}
], markersA, vMarksA);

mainChart('mainB', patternB, '#dd22dd', backgroundB, [
  {pos: spinelPos, h: spinelHB, color: '#6ad66a', w: 1.5},
  {pos: mgfePos, h: mgfeHB, color: '#ee6a6a', w: 2},
  {pos: pbPos, h: pbHB, color: '#4a4ac4', w: 1.3},
  {pos: mgalPos, h: mgalHB, color: '#4b4b95', w: 1.5}
], markersB, vMarksB);

subChart('subA', residueA, markersA, [
  {label: 'Residue + Peak List', color: '#111'},
  {label: '01-086-2251; Spinel (Cu, Zn, Al), syn', color: '#3fbf3f', pos: spinelPos},
  {label: '01-085-0798; Quartz', color: '#8a8a8a', pos: quartzPos},
  {label: '00-024-0291; Augite', color: '#9cc3ea', pos: augitePos},
  {label: '01-077-2368; Magnesium Iron Oxide', color: '#dd2222', pos: mgfePos}
]);
subChart('subB', residueB, markersB, [
  {label: 'Residue + Peak List', color: '#111'},
  {label: '01-086-2251; Spinel (Cu, Zn, Al), syn', color: '#3fbf3f', pos: spinelPos},
  {label: '01-077-2368; Magnesium Iron Oxide', color: '#dd2222', pos: mgfePos},
  {label: '01-078-1666; Lead Oxide', color: '#2a2ac0', pos: pbPos},
  {label: '01-074-1133; Magnesium Aluminum Oxide', color: '#22227a', pos: mgalPos}
]);

// table
(function () {
  const t = document.getElementById('tbl');
  const widths = [84, 265, 139, 128, 111, 101, 84];
  let h = '<colgroup>' + widths.map(w => '<col style="width:' + w + 'px">').join('') + '</colgroup>';
  h += '<tr><th rowspan="2" class="samp">Sample</th><th colspan="6" class="ids">Identified substances</th></tr>';
  h += '<tr class="h2"><th class="b">Augite (Ca, Mg, Fe) (Mg, Fe) Si<sub>2</sub>O<sub>6</sub></th><th class="b">Quartz (SiO<sub>2</sub>)</th><th class="b">CuZnAlspinel</th><th class="n">MgAl oxide</th><th class="n">MgFe oxide</th><th class="n">Pb oxide</th></tr>';
  h += '<tr class="sp">' + widths.map(() => '<td></td>').join('') + '</tr>';
  const cols = [augiteFound, quartzFound, spinelFound, mgalFound, mgfeFound, pbFound];
  samples.forEach((s, i) => {
    h += '<tr><td class="s">' + s + '</td>' + cols.map(c => '<td>' + (c[i] ? 'X' : '') + '</td>').join('') + '</tr>';
  });
  h += '<tr class="sp2">' + widths.map(() => '<td></td>').join('') + '</tr>';
  t.innerHTML = h;
})();

// fit caption lines to the measured widths
document.querySelectorAll('.cap').forEach(el => {
  const target = +el.dataset.w;
  const w = el.getBoundingClientRect().width;
  if (w > 0) el.style.transform = 'scaleX(' + (target / w).toFixed(4) + ')';
});
</script>
</body></html>
